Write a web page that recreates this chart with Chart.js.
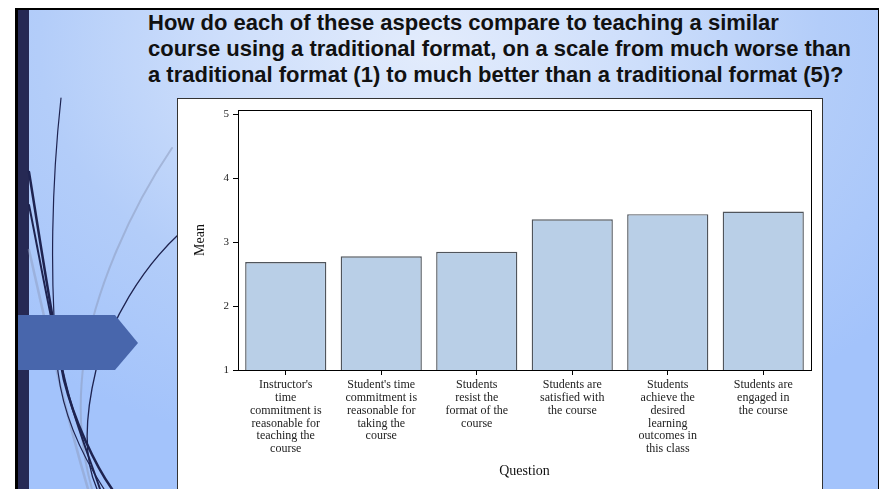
<!DOCTYPE html>
<html>
<head>
<meta charset="utf-8">
<script src="https://cdn.jsdelivr.net/npm/chart.js@4"></script>
<style>
  html, body { margin: 0; padding: 0; background: #fff; width: 879px; height: 489px; overflow: hidden; }
  #slide { position: absolute; left: 15px; top: 8px; width: 860px; height: 490px;
    border-top: 2px solid #000; border-left: 3px solid #000; border-right: 1px solid #000;
    background: radial-gradient(ellipse 70% 85% at 48% 8%, #e3ecfc 0%, #cddefb 35%, #b3cdf9 65%, #a3c3fb 100%);
    overflow: hidden; }
  #navy { position: absolute; left: 18px; top: 10px; width: 11px; height: 480px; background: #262954; }
  #deco { position: absolute; left: 0; top: 0; }
  #title { position: absolute; left: 148px; top: 10px; font-family: "Liberation Sans", Arial, sans-serif;
    font-weight: bold; font-size: 22px; line-height: 26px; color: #111; white-space: nowrap; }
  #box { position: absolute; left: 177px; top: 98px; width: 644px; height: 400px; background: #fff;
    border-top: 1px solid #333; border-left: 1px solid #333; border-right: 1px solid #333; }
  #chart { position: absolute; left: 0; top: 0; }
</style>
</head>
<body>
<div id="slide"></div>
<div id="navy"></div>
<svg id="deco" width="879" height="489" xmlns="http://www.w3.org/2000/svg">
  <g fill="none" stroke-linecap="round">
    <path d="M172 148 C130 210, 95 290, 84 360 C76 420, 84 460, 92 489" stroke="#8e9cc0" stroke-opacity="0.55" stroke-width="2"/>
    <path d="M29 250 C45 320, 62 400, 88 489" stroke="#8e9cc0" stroke-opacity="0.5" stroke-width="2.5"/>
    <path d="M61 98 C52 180, 49 280, 58 372 C64 420, 85 460, 104 489" stroke="#1e2350" stroke-width="1.2"/>
    <path d="M29 172 C40 240, 52 320, 64 380 C74 420, 95 465, 112 489" stroke="#1e2350" stroke-width="2.5"/>
    <path d="M29 205 C42 270, 56 350, 70 400 C80 435, 92 465, 100 489" stroke="#1e2350" stroke-width="2"/>
    <path d="M180 233 C140 270, 112 320, 96 370 C84 420, 84 460, 97 489" stroke="#1e2350" stroke-width="1.3"/>
  </g>
  <polygon points="18,315 115,315 138,343 115,370 18,370" fill="#4866ac"/>
</svg>
<div id="title">How do each of these aspects compare to teaching a similar<br>course using a traditional format, on a scale from much worse than<br>a traditional format (1) to much better than a traditional format (5)?</div>
<div id="box"><canvas id="chart" width="644" height="390"></canvas></div>
<script>
const categories = [
  ["Instructor's", "time", "commitment is", "reasonable for", "teaching the", "course"],
  ["Student's time", "commitment is", "reasonable for", "taking the", "course"],
  ["Students", "resist the", "format of the", "course"],
  ["Students are", "satisfied with", "the course"],
  ["Students", "achieve the", "desired", "learning", "outcomes in", "this class"],
  ["Students are", "engaged in", "the course"]
];
const meanValues = [2.69, 2.78, 2.85, 3.36, 3.44, 3.48];
const yTicks = [1, 2, 3, 4, 5];
const xTitle = "Question";
const yTitle = "Mean";

const frame = {
  id: 'frame',
  afterDraw(chart) {
    const {ctx, chartArea: a} = chart;
    ctx.save();
    ctx.strokeStyle = '#000';
    ctx.lineWidth = 1;
    ctx.strokeRect(Math.round(a.left) + 0.5, Math.round(a.top) + 0.5, Math.round(a.right - a.left), Math.round(a.bottom - a.top));
    ctx.restore();
  }
};

new Chart(document.getElementById('chart'), {
  type: 'bar',
  data: {
    labels: categories,
    datasets: [{
      data: meanValues,
      backgroundColor: '#b9cfe7',
      borderColor: '#50555c',
      borderWidth: 1.4,
      categoryPercentage: 0.85,
      barPercentage: 1.0
    }]
  },
  options: {
    responsive: false,
    devicePixelRatio: 1,
    animation: false,
    layout: { padding: { top: 11, right: 11, left: 0, bottom: 0 } },
    plugins: { legend: { display: false }, tooltip: { enabled: false } },
    scales: {
      x: {
        offset: true,
        border: { display: false },
        grid: { display: true, drawOnChartArea: false, drawTicks: true, tickLength: 5, color: '#000', offset: false },
        ticks: { color: '#222', autoSkip: false, maxRotation: 0, minRotation: 0, padding: 3,
          font: { family: '"Liberation Serif", "Times New Roman", serif', size: 12, lineHeight: 1.08 } },
        title: { display: true, text: xTitle, color: '#111', padding: { top: 0, bottom: 9 },
          font: { family: '"Liberation Serif", "Times New Roman", serif', size: 14 } },
        afterFit(s) { s.height = 119; }
      },
      y: {
        min: 1, max: 5.07,
        border: { display: false },
        grid: { display: true, drawOnChartArea: false, drawTicks: true, tickLength: 5, color: '#000' },
        ticks: { color: '#222', stepSize: 1, padding: 4,
          font: { family: '"Liberation Serif", "Times New Roman", serif', size: 11 } },
        afterBuildTicks(s) { s.ticks = yTicks.map(v => ({ value: v })); },
        title: { display: true, text: yTitle, color: '#111', padding: { top: 14, bottom: 0 },
          font: { family: '"Liberation Serif", "Times New Roman", serif', size: 14 } },
        afterFit(s) { s.width = 60; }
      }
    }
  },
  plugins: [frame]
});
</script>
</body>
</html>
